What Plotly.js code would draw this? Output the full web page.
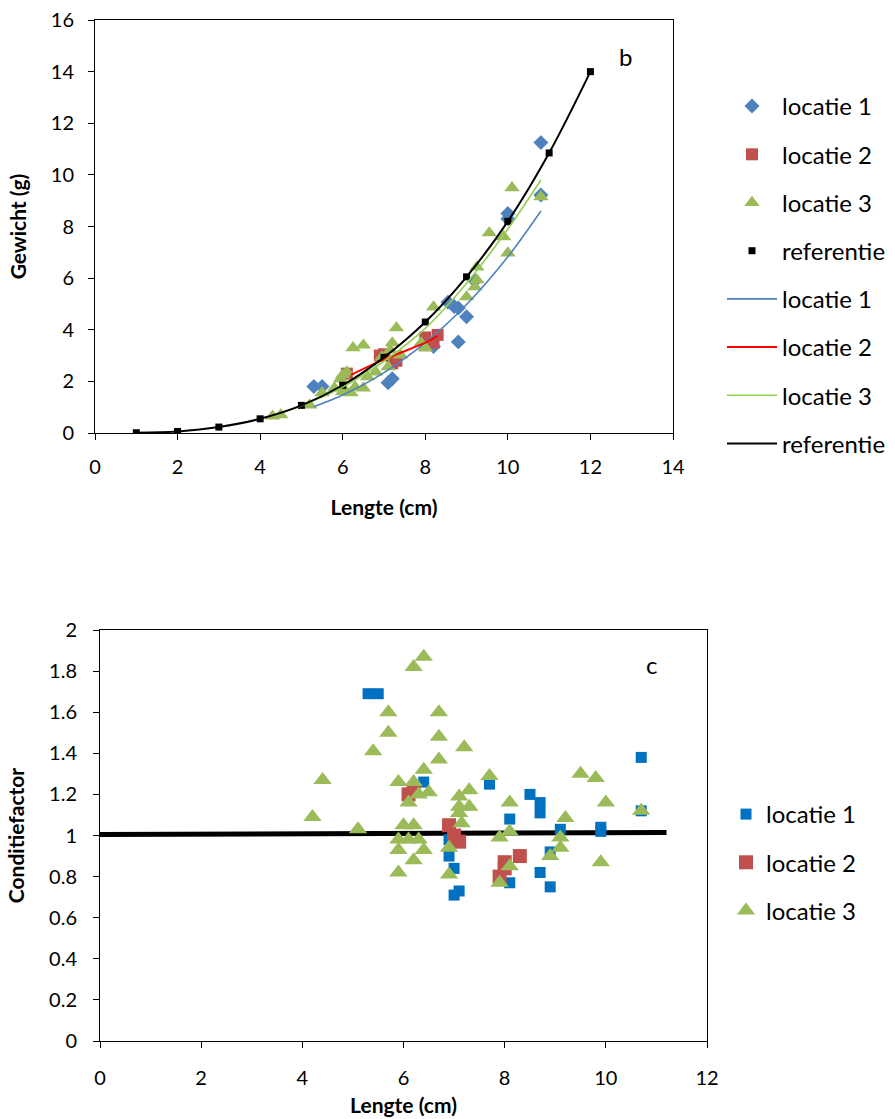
<!DOCTYPE html>
<html>
<head>
<meta charset="utf-8">
<script src="https://cdn.plot.ly/plotly-3.0.1.min.js"></script>
<style>html,body{margin:0;padding:0;background:#fff;}#chart{width:895px;height:1119px;}</style>
</head>
<body>
<div id="chart"></div>
<script>
// ---------- Top chart (b): Gewicht vs Lengte ----------
const loc1X = [5.3, 5.5, 7.1, 7.2, 8.2, 8.55, 8.7, 8.8, 8.8, 9.0, 9.2, 10.0, 10.0, 10.8, 10.8];
const loc1Y = [1.8, 1.8, 1.95, 2.1, 3.35, 5.07, 4.9, 4.84, 3.53, 4.5, 5.9, 8.5, 8.3, 11.25, 9.22];

const loc2X = [6.1, 6.9, 7.0, 7.2, 7.3, 8.0, 8.0, 8.2, 8.3];
const loc2Y = [2.3, 3.0, 3.05, 2.7, 2.8, 3.4, 3.7, 3.5, 3.8];

const loc3X = [4.3, 4.5, 5.2, 5.5, 5.8, 6.0, 6.05, 6.0, 6.1, 6.3, 6.25, 6.5, 6.5, 6.2, 5.95, 6.6, 6.8, 6.95, 7.1, 7.15, 7.2, 7.3, 7.4, 7.9, 8.0, 8.2, 9.0, 9.2, 9.25, 9.25, 9.55, 9.9, 10.0, 10.1, 10.8];
const loc3Y = [0.65, 0.7, 1.08, 1.55, 1.74, 1.6, 1.67, 2.25, 2.36, 1.78, 3.3, 3.4, 1.74, 1.55, 2.1, 2.17, 2.36, 2.94, 2.56, 3.22, 3.49, 4.07, 3.02, 3.49, 3.3, 4.88, 5.27, 5.66, 5.93, 6.43, 7.75, 7.6, 6.97, 9.5, 9.15];

const refX = [1, 2, 3, 4, 5, 6, 7, 8, 9, 10, 11, 12];
const refY = [0.01, 0.06, 0.23, 0.55, 1.07, 1.85, 2.93, 4.3, 6.05, 8.2, 10.85, 14.0];

// trend lines
const trend1X = [5.3, 6, 7, 8, 9, 10, 10.8];
const trend1Y = [1.02, 1.47, 2.34, 3.5, 4.98, 6.83, 8.6];
const trend2X = [6.2, 7, 8, 8.3];
const trend2Y = [2.25, 2.85, 3.5, 3.76];
const trend3X = [4.3, 5, 6, 7, 8, 9, 10, 10.8];
const trend3Y = [0.68, 1.06, 1.78, 2.78, 4.05, 5.8, 7.9, 9.8];

// ---------- Bottom chart (c): Conditiefactor vs Lengte ----------
const cf1X = [5.3, 5.5, 6.4, 6.9, 6.9, 7.0, 7.0, 7.1, 7.7, 8.1, 8.1, 8.5, 8.7, 8.7, 8.7, 8.9, 8.9, 9.1, 9.9, 9.9, 10.7, 10.7];
const cf1Y = [1.69, 1.69, 1.26, 0.98, 0.9, 0.84, 0.71, 0.73, 1.25, 1.08, 0.77, 1.2, 1.16, 1.11, 0.82, 0.92, 0.75, 1.03, 1.04, 1.02, 1.38, 1.12];

const cf2X = [6.1, 6.2, 6.9, 7.0, 7.1, 7.9, 8.0, 8.0, 8.3];
const cf2Y = [1.2, 1.22, 1.05, 1.0, 0.97, 0.8, 0.87, 0.84, 0.9];

const cf3X = [4.2, 4.4, 5.1, 5.4, 5.7, 5.7, 5.9, 5.9, 5.9, 5.9, 6.0, 6.1, 6.1, 6.2, 6.2, 6.2, 6.2, 6.3, 6.3, 6.4, 6.4, 6.4, 6.5, 6.7, 6.7, 6.7, 6.9, 6.9, 7.1, 7.1, 7.1, 7.15, 7.2, 7.3, 7.3, 7.7, 7.9, 7.9, 8.1, 8.1, 8.1, 8.9, 9.1, 9.1, 9.2, 9.5, 9.8, 10.0, 9.9, 10.7];
const cf3Y = [1.09, 1.27, 1.03, 1.41, 1.60, 1.50, 1.26, 0.98, 0.93, 0.82, 1.05, 1.16, 0.98, 1.82, 1.26, 1.05, 0.88, 1.20, 0.98, 1.87, 1.32, 0.93, 1.21, 1.60, 1.48, 1.37, 0.94, 0.81, 1.19, 1.14, 1.11, 1.06, 1.43, 1.22, 1.14, 1.29, 0.99, 0.77, 1.16, 1.02, 0.85, 0.90, 0.99, 0.94, 1.085, 1.30, 1.28, 1.16, 0.87, 1.12];

const cfRefX = [0, 11.2];
const cfRefY = [1.005, 1.015];

const FONT = 'Lato, "Open Sans", sans-serif';
const BLUE = '#4F81BD', RED = '#C0504D', GREEN = '#9BBB59';

const traces = [
  {x: loc1X, y: loc1Y, type: 'scatter', mode: 'markers', name: 'locatie 1', legendgroup: 'a1',
   marker: {symbol: 'diamond', size: 11.5, color: BLUE}, xaxis: 'x', yaxis: 'y', legend: 'legend'},
  {x: loc2X, y: loc2Y, type: 'scatter', mode: 'markers', name: 'locatie 2', legendgroup: 'a2',
   marker: {symbol: 'square', size: 12, color: RED}, xaxis: 'x', yaxis: 'y', legend: 'legend'},
  {x: loc3X, y: loc3Y, type: 'scatter', mode: 'markers', name: 'locatie 3', legendgroup: 'a3',
   marker: {symbol: 'triangle-up', size: 13.5, color: GREEN}, xaxis: 'x', yaxis: 'y', legend: 'legend'},
  {x: refX, y: refY, type: 'scatter', mode: 'markers', name: 'referentie', legendgroup: 'a4',
   marker: {symbol: 'square', size: 7, color: '#000'}, xaxis: 'x', yaxis: 'y', legend: 'legend'},
  {x: trend1X, y: trend1Y, type: 'scatter', mode: 'lines', name: 'locatie 1', legendgroup: 'a5',
   line: {color: BLUE, width: 1.6, shape: 'spline'}, xaxis: 'x', yaxis: 'y', legend: 'legend'},
  {x: trend2X, y: trend2Y, type: 'scatter', mode: 'lines', name: 'locatie 2', legendgroup: 'a6',
   line: {color: '#FF0000', width: 2, shape: 'spline'}, xaxis: 'x', yaxis: 'y', legend: 'legend'},
  {x: trend3X, y: trend3Y, type: 'scatter', mode: 'lines', name: 'locatie 3', legendgroup: 'a7',
   line: {color: '#92D050', width: 1.6, shape: 'spline'}, xaxis: 'x', yaxis: 'y', legend: 'legend'},
  {x: refX, y: refY, type: 'scatter', mode: 'lines', name: 'referentie', legendgroup: 'a8',
   line: {color: '#000', width: 2, shape: 'spline'}, xaxis: 'x', yaxis: 'y', legend: 'legend'},

  {x: cfRefX, y: cfRefY, type: 'scatter', mode: 'lines', showlegend: false,
   line: {color: '#000', width: 5}, xaxis: 'x2', yaxis: 'y2'},
  {x: cf1X, y: cf1Y, type: 'scatter', mode: 'markers', name: 'locatie 1', legendgroup: 'b1',
   marker: {symbol: 'square', size: 11, color: '#0070C0'}, xaxis: 'x2', yaxis: 'y2', legend: 'legend2'},
  {x: cf2X, y: cf2Y, type: 'scatter', mode: 'markers', name: 'locatie 2', legendgroup: 'b2',
   marker: {symbol: 'square', size: 14, color: RED}, xaxis: 'x2', yaxis: 'y2', legend: 'legend2'},
  {x: cf3X, y: cf3Y, type: 'scatter', mode: 'markers', name: 'locatie 3', legendgroup: 'b3',
   marker: {symbol: 'triangle-up', size: 16, color: GREEN}, xaxis: 'x2', yaxis: 'y2', legend: 'legend2'}
];

const axisCommon = {
  showgrid: false, zeroline: false, showline: true, linecolor: '#000', linewidth: 1,
  mirror: true, ticks: 'outside', ticklen: 6, tickcolor: '#000', tickwidth: 1,
  tickfont: {family: FONT, size: 20, color: '#000'}
};
const titleFont = {family: FONT, size: 21, color: '#000', weight: 'bold'};

const layout = {
  width: 895, height: 1119,
  margin: {l: 0, r: 0, t: 0, b: 0},
  paper_bgcolor: '#fff', plot_bgcolor: '#fff',
  font: {family: FONT, color: '#000'},
  xaxis: Object.assign({}, axisCommon, {domain: [95/895, 673/895], range: [0, 14], dtick: 2, anchor: 'y',
    ticklabelstandoff: 10,
    title: {text: 'Lengte (cm)', font: titleFont, standoff: 23}}),
  yaxis: Object.assign({}, axisCommon, {domain: [1 - 433/1119, 1 - 20/1119], range: [0, 16], dtick: 2, anchor: 'x',
    ticklabelstandoff: 10,
    title: {text: 'Gewicht (g)', font: titleFont, standoff: 18}}),
  xaxis2: Object.assign({}, axisCommon, {domain: [100/895, 707/895], range: [0, 12], dtick: 2, anchor: 'y2',
    ticklabelstandoff: 13,
    title: {text: 'Lengte (cm)', font: titleFont, standoff: 10}}),
  yaxis2: Object.assign({}, axisCommon, {domain: [1 - 1041/1119, 1 - 630/1119], range: [0, 2], dtick: 0.2, anchor: 'x2',
    ticklabelstandoff: 12,
    title: {text: 'Conditiefactor', font: titleFont, standoff: 18}}),
  legend: {x: 722/895, y: 1 - 84/1119, xanchor: 'left', yanchor: 'top', traceorder: 'grouped',
    tracegroupgap: 14, itemwidth: 50, font: {family: FONT, size: 24, color: '#000'}, bgcolor: 'rgba(0,0,0,0)'},
  legend2: {x: 726/895, y: 1 - 792/1119, xanchor: 'left', yanchor: 'top', traceorder: 'grouped',
    tracegroupgap: 14, font: {family: FONT, size: 24, color: '#000'}, bgcolor: 'rgba(0,0,0,0)'},
  annotations: [
    {text: 'b', x: 12.85, y: 14.6, xref: 'x', yref: 'y', showarrow: false, font: {family: FONT, size: 24, color: '#000'}},
    {text: 'c', x: 10.9, y: 1.83, xref: 'x2', yref: 'y2', showarrow: false, font: {family: FONT, size: 24, color: '#000'}}
  ],
  showlegend: true
};

Plotly.newPlot('chart', traces, layout, {displayModeBar: false, staticPlot: true});
</script>
</body>
</html>
